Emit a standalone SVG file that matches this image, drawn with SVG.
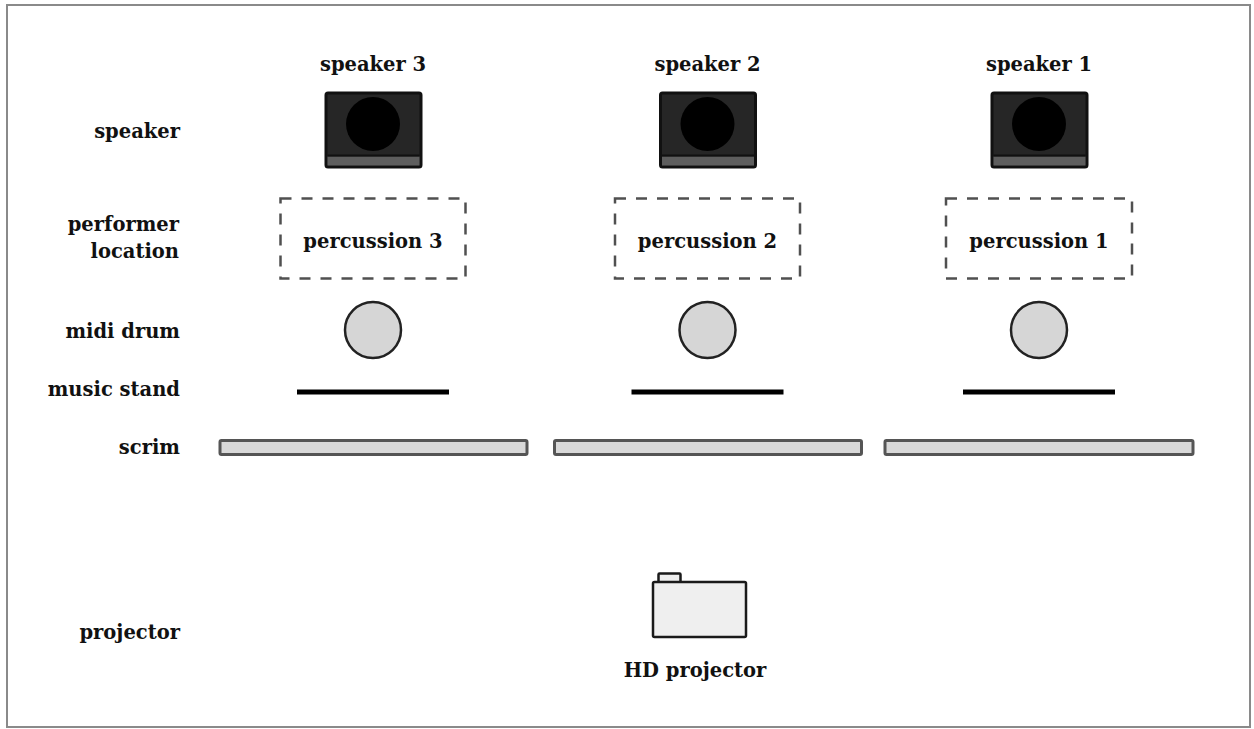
<svg xmlns="http://www.w3.org/2000/svg" width="1254" height="729" viewBox="0 0 1254 729">
<style>
text{font-family:"DejaVu Serif","Liberation Serif",serif;font-weight:bold;font-size:19.5px;fill:#111}
.lbl{text-anchor:end}
.mid{text-anchor:middle}
.spk{fill:#262626;stroke:#111;stroke-width:3}
.spkbar{fill:#5e5e5e}
.cone{fill:#000}
.perf{fill:none;stroke:#505050;stroke-width:2.5;stroke-dasharray:11 10}
.drum{fill:#d6d6d6;stroke:#222;stroke-width:2.5}
.stand{fill:#000}
.scrim{fill:#d9d9d9;stroke:#555;stroke-width:3}
.proj{fill:#efefef;stroke:#1a1a1a;stroke-width:2.5}
</style>
<rect x="0" y="0" width="1254" height="729" fill="#fff"/>
<rect x="7" y="5" width="1243" height="722" fill="#fff" stroke="#8a8a8a" stroke-width="2"/>

<g id="row-labels">
<text class="lbl" x="180" y="138">speaker</text>
<text class="lbl" x="179" y="231">performer</text>
<text class="lbl" x="179" y="258">location</text>
<text class="lbl" x="180" y="338">midi drum</text>
<text class="lbl" x="180" y="396">music stand</text>
<text class="lbl" x="180" y="454">scrim</text>
<text class="lbl" x="180" y="639">projector</text>
</g>

<g id="column-3" transform="translate(373,0)">
<text class="mid" x="0" y="71">speaker 3</text>
<g id="speaker-3">
<rect class="spk" x="-47" y="93" width="95" height="74" rx="2"/>
<rect class="spkbar" x="-45.5" y="156.5" width="92" height="9"/>
<line x1="-45.5" y1="155.5" x2="46.5" y2="155.5" stroke="#111" stroke-width="2"/>
<circle class="cone" cx="0" cy="124" r="27"/>
</g>
<g id="percussion-3">
<rect class="perf" x="-92.5" y="198.5" width="185" height="80"/>
<text class="mid" x="0" y="248">percussion 3</text>
</g>
<g id="drum-3"><circle class="drum" cx="0" cy="330" r="28"/></g>
<g id="stand-3"><rect class="stand" x="-76" y="389.5" width="152" height="5"/></g>
<g id="scrim-3"><rect class="scrim" x="-153" y="440.5" width="307" height="14" rx="1.5"/></g>
</g>

<g id="column-2" transform="translate(707.5,0)">
<text class="mid" x="0" y="71">speaker 2</text>
<g id="speaker-2">
<rect class="spk" x="-47" y="93" width="95" height="74" rx="2"/>
<rect class="spkbar" x="-45.5" y="156.5" width="92" height="9"/>
<line x1="-45.5" y1="155.5" x2="46.5" y2="155.5" stroke="#111" stroke-width="2"/>
<circle class="cone" cx="0" cy="124" r="27"/>
</g>
<g id="percussion-2">
<rect class="perf" x="-92.5" y="198.5" width="185" height="80"/>
<text class="mid" x="0" y="248">percussion 2</text>
</g>
<g id="drum-2"><circle class="drum" cx="0" cy="330" r="28"/></g>
<g id="stand-2"><rect class="stand" x="-76" y="389.5" width="152" height="5"/></g>
<g id="scrim-2"><rect class="scrim" x="-153" y="440.5" width="307" height="14" rx="1.5"/></g>
</g>

<g id="column-1" transform="translate(1039,0)">
<text class="mid" x="0" y="71">speaker 1</text>
<g id="speaker-1">
<rect class="spk" x="-47" y="93" width="95" height="74" rx="2"/>
<rect class="spkbar" x="-45.5" y="156.5" width="92" height="9"/>
<line x1="-45.5" y1="155.5" x2="46.5" y2="155.5" stroke="#111" stroke-width="2"/>
<circle class="cone" cx="0" cy="124" r="27"/>
</g>
<g id="percussion-1">
<rect class="perf" x="-93" y="198.5" width="186" height="80"/>
<text class="mid" x="0" y="248">percussion 1</text>
</g>
<g id="drum-1"><circle class="drum" cx="0" cy="330" r="28"/></g>
<g id="stand-1"><rect class="stand" x="-76" y="389.5" width="152" height="5"/></g>
<g id="scrim-1"><rect class="scrim" x="-154" y="440.5" width="308" height="14" rx="1.5"/></g>
</g>

<g id="projector">
<rect class="proj" x="658.5" y="573.5" width="22" height="9" rx="1"/>
<rect class="proj" x="653" y="582" width="93" height="55" rx="1.5"/>
<text class="mid" x="695" y="677">HD projector</text>
</g>

<g id="connectors"></g>
</svg>
